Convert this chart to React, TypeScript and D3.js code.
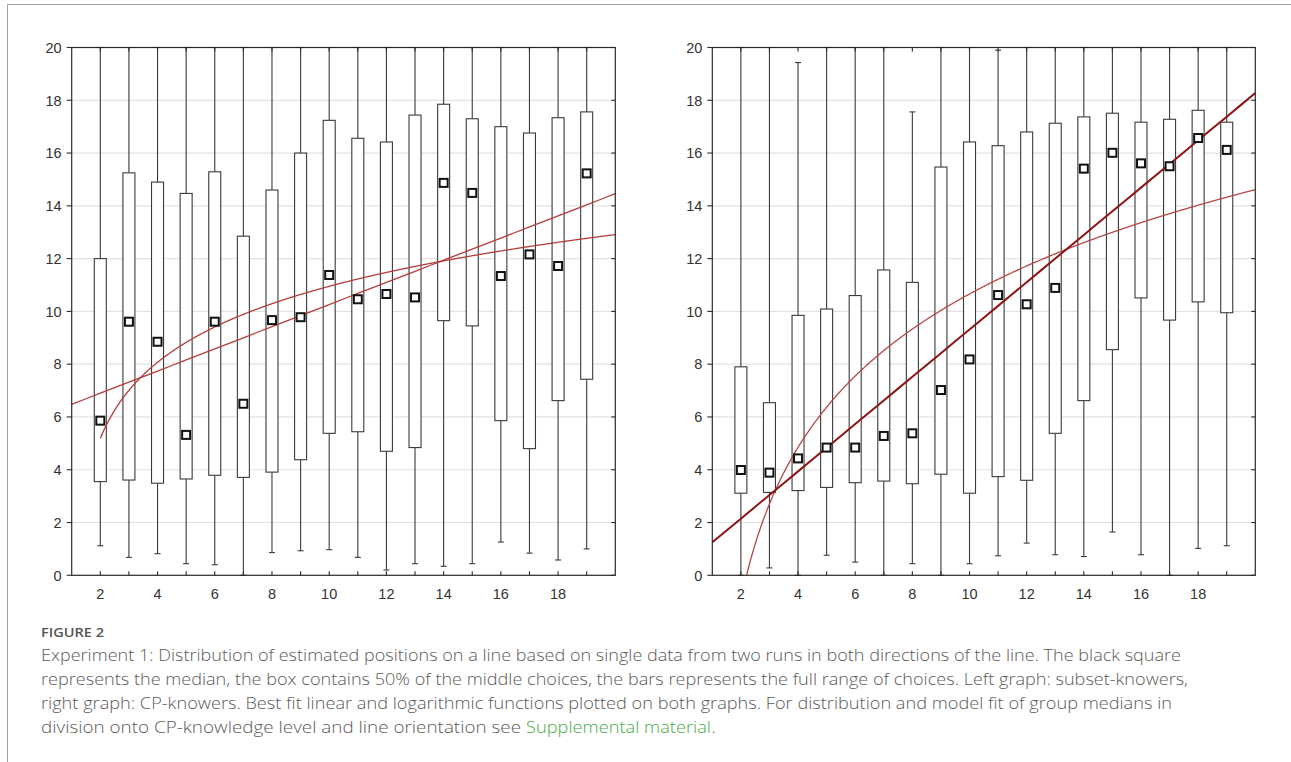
import React from "react";
import * as d3 from "d3";

// ---------- data ----------
const categories = [2, 3, 4, 5, 6, 7, 8, 9, 10, 11, 12, 13, 14, 15, 16, 17, 18, 19];

// Left graph: subset-knowers
const leftMin = [1.12, 0.68, 0.82, 0.44, 0.4, 0, 0.86, 0.93, 0.97, 0.68, 0.2, 0.44, 0.34, 0.44, 1.26, 0.84, 0.58, 1.0];
const leftQ1 = [3.55, 3.61, 3.49, 3.65, 3.79, 3.71, 3.91, 4.38, 5.38, 5.44, 4.7, 4.84, 9.65, 9.45, 5.86, 4.8, 6.62, 7.43];
const leftMedian = [5.86, 9.61, 8.85, 5.32, 9.61, 6.5, 9.67, 9.78, 11.38, 10.46, 10.66, 10.53, 14.87, 14.49, 11.34, 12.16, 11.72, 15.23];
const leftQ3 = [12.0, 15.25, 14.9, 14.47, 15.29, 12.85, 14.6, 16.0, 17.24, 16.56, 16.42, 17.44, 17.85, 17.3, 17.0, 16.76, 17.34, 17.56];
const leftMax = [20, 20, 20, 20, 20, 20, 20, 20, 20, 20, 20, 20, 20, 20, 20, 20, 20, 20];

// Right graph: CP-knowers
const rightMin = [0, 0.28, 0, 0.76, 0.5, 0, 0.44, 0, 0.44, 0.74, 1.22, 0.78, 0.71, 1.64, 0.78, 0, 1.02, 1.12];
const rightQ1 = [3.11, 3.14, 3.21, 3.33, 3.51, 3.57, 3.47, 3.83, 3.11, 3.74, 3.6, 5.38, 6.62, 8.55, 10.51, 9.67, 10.36, 9.95];
const rightMedian = [3.99, 3.89, 4.43, 4.84, 4.84, 5.28, 5.38, 7.02, 8.18, 10.62, 10.27, 10.89, 15.41, 16.01, 15.61, 15.5, 16.57, 16.12];
const rightQ3 = [7.9, 6.54, 9.85, 10.09, 10.6, 11.57, 11.1, 15.47, 16.42, 16.28, 16.8, 17.13, 17.37, 17.51, 17.17, 17.28, 17.62, 17.17];
const rightMax = [20, 20, 19.43, 20, 20, 20, 17.56, 20, 20, 19.9, 20, 20, 20, 20, 20, 20, 20, 20];

// best-fit functions: linear y = a + b x ; logarithmic y = a + b ln(x - 1)
const leftLinearFit = { a: 6.06, b: 0.42 };
const leftLogFit = { a: 5.19, b: 2.622 };
const rightLinearFit = { a: 0.354, b: 0.896 };
const rightLogFit = { a: -0.963, b: 5.29 };

const xTicks = [2, 4, 6, 8, 10, 12, 14, 16, 18];
const xMinorTicks = [2, 3, 4, 5, 6, 7, 8, 9, 10, 11, 12, 13, 14, 15, 16, 17, 18, 19];
const yTicks = [0, 2, 4, 6, 8, 10, 12, 14, 16, 18, 20];

const captionTitle = "FIGURE 2";
const captionLines = [
  "Experiment 1: Distribution of estimated positions on a line based on single data from two runs in both directions of the line. The black square",
  "represents the median, the box contains 50% of the middle choices, the bars represents the full range of choices. Left graph: subset-knowers,",
  "right graph: CP-knowers. Best fit linear and logarithmic functions plotted on both graphs. For distribution and model fit of group medians in",
];
const captionLastPre = "division onto CP-knowledge level and line orientation see";
const captionLink = "Supplemental material";
const captionLastPost = ".";

// ---------- drawing ----------
type PanelProps = {
  id: string;
  left: number;
  right: number;
  mins: number[];
  q1: number[];
  med: number[];
  q3: number[];
  maxs: number[];
  lin: { a: number; b: number };
  log: { a: number; b: number };
  linColor: string;
  linWidth: number;
  logColor: string;
  logWidth: number;
};

const TOP = 47.5;
const BOTTOM = 575.3;
const tickFont = "'Liberation Sans', Arial, sans-serif";

function Panel(p: PanelProps) {
  const x = d3.scaleLinear().domain([1, 20]).range([p.left, p.right]);
  const y = d3.scaleLinear().domain([0, 20]).range([BOTTOM, TOP]);
  const boxW = 12;
  const capW = 6;
  const sq = 8;

  const linPts = d3.range(1, 20.001, 0.5).map((v) => [v, p.lin.a + p.lin.b * v] as [number, number]);
  const logStart = 1 + Math.exp(-p.log.a / p.log.b);
  const x0 = Math.max(2, logStart);
  const logPts: [number, number][] = [];
  for (let v = x0; v <= 20.0001; v += 0.02) {
    logPts.push([v, p.log.a + p.log.b * Math.log(v - 1)]);
  }
  const line = d3
    .line<[number, number]>()
    .x((d) => x(d[0]))
    .y((d) => y(d[1]));

  return (
    <g>
      <defs>
        <clipPath id={`clip-${p.id}`}>
          <rect x={p.left} y={TOP} width={p.right - p.left} height={BOTTOM - TOP} />
        </clipPath>
      </defs>
      {/* grid */}
      {yTicks
        .filter((t) => t > 0 && t < 20)
        .map((t) => (
          <line key={`g${t}`} x1={p.left} x2={p.right} y1={y(t)} y2={y(t)} stroke="#e2e2e2" strokeWidth={1.2} />
        ))}
      {/* boxes & whiskers */}
      {categories.map((c, i) => {
        const cx = x(c);
        return (
          <g key={`b${c}`}>
            <line x1={cx} x2={cx} y1={y(p.maxs[i])} y2={y(p.q3[i])} stroke="#3a3a3a" strokeWidth={1.1} />
            <line x1={cx} x2={cx} y1={y(p.q1[i])} y2={y(p.mins[i])} stroke="#3a3a3a" strokeWidth={1.1} />
            <line x1={cx - capW / 2} x2={cx + capW / 2} y1={y(p.maxs[i])} y2={y(p.maxs[i])} stroke="#3a3a3a" strokeWidth={1.1} />
            <line x1={cx - capW / 2} x2={cx + capW / 2} y1={y(p.mins[i])} y2={y(p.mins[i])} stroke="#3a3a3a" strokeWidth={1.1} />
            <rect
              x={cx - boxW / 2}
              y={y(p.q3[i])}
              width={boxW}
              height={y(p.q1[i]) - y(p.q3[i])}
              fill="#fff"
              stroke="#3a3a3a"
              strokeWidth={1.1}
            />
          </g>
        );
      })}
      {/* fits */}
      <g clipPath={`url(#clip-${p.id})`}>
        <path d={line(logPts) || ""} fill="none" stroke={p.logColor} strokeWidth={p.logWidth} />
        <path d={line(linPts) || ""} fill="none" stroke={p.linColor} strokeWidth={p.linWidth} />
      </g>
      {/* medians */}
      {categories.map((c, i) => (
        <rect
          key={`m${c}`}
          x={x(c) - sq / 2}
          y={y(p.med[i]) - sq / 2}
          width={sq}
          height={sq}
          fill="#fff"
          stroke="#111"
          strokeWidth={2}
        />
      ))}
      {/* frame */}
      <rect x={p.left} y={TOP} width={p.right - p.left} height={BOTTOM - TOP} fill="none" stroke="#2a2a2a" strokeWidth={1.2} />
      {/* y ticks left (outward) and right (inward) */}
      {yTicks.map((t) => (
        <g key={`yt${t}`}>
          <line x1={p.left - 5} x2={p.left} y1={y(t)} y2={y(t)} stroke="#2a2a2a" strokeWidth={1.1} />
          <line x1={p.right - 4} x2={p.right} y1={y(t)} y2={y(t)} stroke="#2a2a2a" strokeWidth={1.1} />
          <text
            x={p.left - 10}
            y={y(t)}
            dy="0.36em"
            textAnchor="end"
            fontFamily={tickFont}
            fontSize={14.5}
            fill="#333"
          >
            {t}
          </text>
        </g>
      ))}
      {/* x ticks (inward, bottom and top) */}
      {xMinorTicks.map((t) => (
        <g key={`xt${t}`}>
          <line x1={x(t)} x2={x(t)} y1={BOTTOM} y2={BOTTOM - 4} stroke="#2a2a2a" strokeWidth={1.1} />
          <line x1={x(t)} x2={x(t)} y1={TOP} y2={TOP + 4} stroke="#2a2a2a" strokeWidth={1.1} />
        </g>
      ))}
      {xTicks.map((t) => (
        <text
          key={`xl${t}`}
          x={x(t)}
          y={598.5}
          textAnchor="middle"
          fontFamily={tickFont}
          fontSize={14.5}
          fill="#333"
        >
          {t}
        </text>
      ))}
    </g>
  );
}

export default function App() {
  const capFont = "'Open Sans', 'Noto Sans', sans-serif";
  const lineEnds = [1181, 1188, 1172];
  const lastY = 661 + 3 * 24;
  return (
    <svg
      width={1291}
      height={762}
      style={{ position: "absolute", left: 0, top: 0, background: "#fff" }}
    >
      <rect x={0} y={0} width={1291} height={762} fill="#fff" />
      {/* page border */}
      <line x1={7.5} x2={1291} y1={4.5} y2={4.5} stroke="#a0a0a0" strokeWidth={1} />
      <line x1={7.5} x2={7.5} y1={4.5} y2={762} stroke="#a0a0a0" strokeWidth={1} />

      <Panel
        id="left"
        left={71.7}
        right={615.3}
        mins={leftMin}
        q1={leftQ1}
        med={leftMedian}
        q3={leftQ3}
        maxs={leftMax}
        lin={leftLinearFit}
        log={leftLogFit}
        linColor="#b43c3c"
        linWidth={1.3}
        logColor="#b43c3c"
        logWidth={1.3}
      />
      <Panel
        id="right"
        left={712.3}
        right={1255.3}
        mins={rightMin}
        q1={rightQ1}
        med={rightMedian}
        q3={rightQ3}
        maxs={rightMax}
        lin={rightLinearFit}
        log={rightLogFit}
        linColor="#8e1414"
        linWidth={2}
        logColor="#b44848"
        logWidth={1.3}
      />

      {/* caption */}
      <text
        x={41}
        y={637}
        fontFamily={capFont}
        fontSize={13}
        fontWeight={600}
        fill="#555"
        textLength={63}
        lengthAdjust="spacingAndGlyphs"
      >
        {captionTitle}
      </text>
      {captionLines.map((s, i) => (
        <text
          key={i}
          x={41}
          y={661 + i * 24}
          fontFamily={capFont}
          fontSize={16.5}
          fontWeight={300}
          fill="#5a5a5a"
          textLength={lineEnds[i] - 41}
          lengthAdjust="spacingAndGlyphs"
        >
          {s}
        </text>
      ))}
      <text
        x={41}
        y={lastY}
        fontFamily={capFont}
        fontSize={16.5}
        fontWeight={300}
        fill="#5a5a5a"
        textLength={521 - 41}
        lengthAdjust="spacingAndGlyphs"
      >
        {captionLastPre}
      </text>
      <text
        x={526}
        y={lastY}
        fontFamily={capFont}
        fontSize={16.5}
        fontWeight={300}
        fill="#4aaa4a"
        textLength={711 - 526}
        lengthAdjust="spacingAndGlyphs"
      >
        {captionLink}
      </text>
      <text x={711.5} y={lastY} fontFamily={capFont} fontSize={16.5} fontWeight={300} fill="#5a5a5a">
        {captionLastPost}
      </text>
    </svg>
  );
}
